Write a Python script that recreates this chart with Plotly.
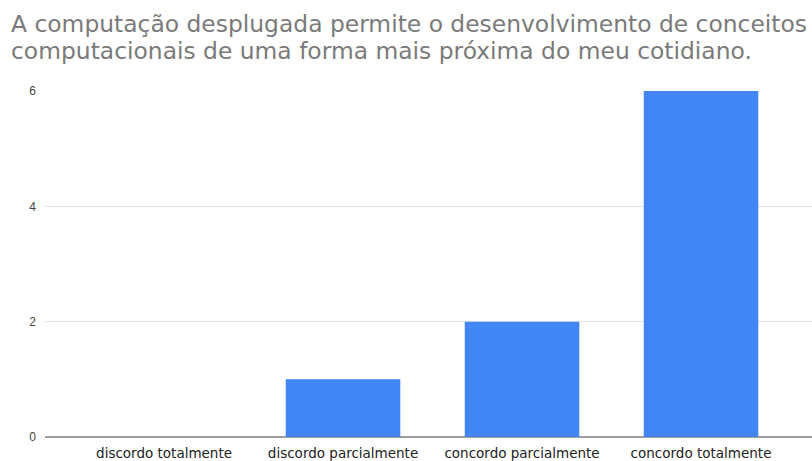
import plotly.graph_objects as go

categories = ["discordo totalmente", "discordo parcialmente", "concordo parcialmente", "concordo totalmente"]
counts = [0, 1, 2, 6]
y_ticks = [0, 2, 4, 6]

title_lines = [
    "A computação desplugada permite o desenvolvimento de conceitos",
    "computacionais de uma forma mais próxima do meu cotidiano.",
]

FONT = "Liberation Sans, Arial, sans-serif"
WIDE_FONT = "DejaVu Sans, sans-serif"
PLOT_TOP, PLOT_BOTTOM, HEIGHT = 91, 437, 461


def paper_y(px):
    # convert a pixel row of the page into paper coordinates of the plot area
    return (PLOT_BOTTOM - px) / (PLOT_BOTTOM - PLOT_TOP)


fig = go.Figure(
    go.Bar(
        x=list(range(len(categories))),
        y=counts,
        marker=dict(color="#4285F4", line=dict(width=0)),
        width=0.64,
        hoverinfo="x+y",
    )
)

annotations = []
for i, line in enumerate(title_lines):
    annotations.append(
        dict(
            text=line,
            x=10 / 812 - 45 / 767,
            xref="paper",
            xanchor="left",
            y=paper_y(8 + 27 * i),
            yref="paper",
            yanchor="top",
            showarrow=False,
            align="left",
            font=dict(family=WIDE_FONT, size=23.4, color="#7a7a7a"),
        )
    )

fig.update_layout(
    width=812,
    height=HEIGHT,
    margin=dict(l=45, r=0, t=PLOT_TOP, b=HEIGHT - PLOT_BOTTOM),
    paper_bgcolor="white",
    plot_bgcolor="white",
    showlegend=False,
    annotations=annotations,
    font=dict(family=FONT),
)

fig.update_xaxes(
    tickvals=list(range(len(categories))),
    ticktext=categories,
    range=[-0.665, 3.62],
    showgrid=False,
    showline=False,
    ticks="",
    tickfont=dict(family=WIDE_FONT, size=13.5, color="#222222"),
    ticklabelstandoff=6,
)

fig.update_yaxes(
    range=[0, 6],
    tickvals=y_ticks,
    showgrid=True,
    gridcolor="#e4e4e4",
    gridwidth=1,
    zeroline=True,
    zerolinecolor="#9e9e9e",
    zerolinewidth=2,
    showline=False,
    ticks="",
    tickfont=dict(size=12, color="#444444"),
    ticklabelstandoff=8,
)

fig.write_html("out.html")
